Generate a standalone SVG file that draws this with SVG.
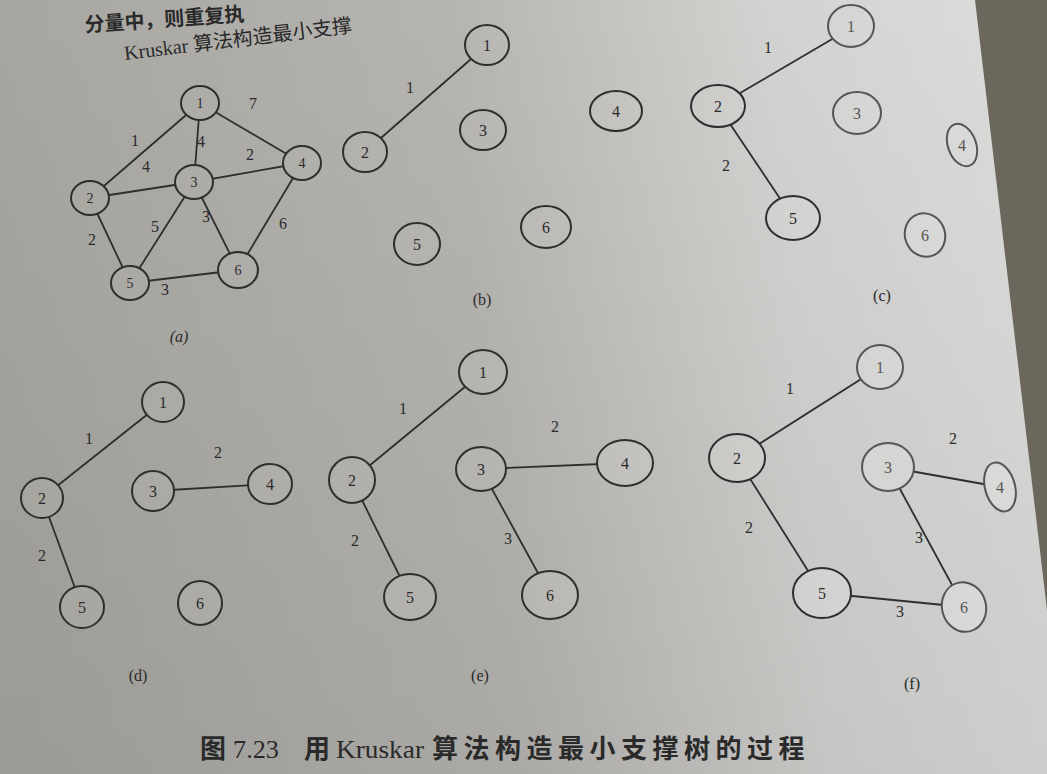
<svg xmlns="http://www.w3.org/2000/svg" width="1047" height="774" viewBox="0 0 1047 774">
<defs>
<linearGradient id="paper" gradientUnits="userSpaceOnUse" x1="0" y1="300" x2="1047" y2="200">
<stop offset="0" stop-color="#a7a5a0"/>
<stop offset="0.45" stop-color="#b6b4b0"/>
<stop offset="0.75" stop-color="#d2d2d0"/>
<stop offset="1" stop-color="#dcdcda"/>
</linearGradient>
<linearGradient id="shade" gradientUnits="userSpaceOnUse" x1="0" y1="0" x2="0" y2="774">
<stop offset="0" stop-color="#000" stop-opacity="0"/>
<stop offset="1" stop-color="#000" stop-opacity="0.06"/>
</linearGradient>
</defs>
<style>
.n ellipse{fill:url(#paper);stroke:#2e2e2e;stroke-width:2}
.n text,.lb{font-family:"Liberation Serif","Noto Sans CJK SC",serif;font-size:16px;fill:#2a2a2a;text-anchor:middle;dominant-baseline:central}
.sm text{font-size:14px}
.lt ellipse{stroke:#555}
.lt text{fill:#555}
.e line{stroke:#2e2e2e;stroke-width:1.8}
.cap{font-family:"Liberation Serif","Noto Sans CJK SC",serif;fill:#2a2a2a}
</style>
<rect width="1047" height="774" fill="url(#paper)"/>
<rect width="1047" height="774" fill="url(#shade)"/>
<polygon points="975,0 1047,0 1047,610" fill="#6b675d"/>

<text class="cap" font-size="20" font-weight="bold" transform="translate(85,32) rotate(-4)">分量中，则重复执</text>
<text class="cap" font-size="20" transform="translate(125,60) rotate(-7)">Kruskar 算法构造最小支撑</text>

<g id="connectors" class="e">
<line x1="200" y1="103" x2="90" y2="198"/>
<line x1="200" y1="103" x2="302" y2="163"/>
<line x1="200" y1="103" x2="194" y2="182"/>
<line x1="90" y1="198" x2="194" y2="182"/>
<line x1="194" y1="182" x2="302" y2="163"/>
<line x1="90" y1="198" x2="130" y2="283"/>
<line x1="194" y1="182" x2="130" y2="283"/>
<line x1="194" y1="182" x2="238" y2="270"/>
<line x1="302" y1="163" x2="238" y2="270"/>
<line x1="130" y1="283" x2="238" y2="270"/>

<line x1="487" y1="45" x2="365" y2="152"/>

<line x1="851" y1="28" x2="718" y2="106"/>
<line x1="718" y1="106" x2="793" y2="218"/>

<line x1="163" y1="402" x2="42" y2="498"/>
<line x1="42" y1="498" x2="82" y2="607"/>
<line x1="153" y1="491" x2="270" y2="484"/>

<line x1="483" y1="372" x2="352" y2="480"/>
<line x1="352" y1="480" x2="410" y2="597"/>
<line x1="481" y1="469" x2="625" y2="463"/>
<line x1="481" y1="469" x2="550" y2="595"/>

<line x1="880" y1="367" x2="737" y2="458"/>
<line x1="737" y1="458" x2="822" y2="593"/>
<line x1="888" y1="467" x2="1000" y2="487"/>
<line x1="888" y1="467" x2="964" y2="607"/>
<line x1="822" y1="593" x2="964" y2="607"/>
</g>

<g id="edge-labels">
<text class="lb" x="135" y="140">1</text>
<text class="lb" x="253" y="103">7</text>
<text class="lb" x="201" y="141">4</text>
<text class="lb" x="146" y="166">4</text>
<text class="lb" x="250" y="154">2</text>
<text class="lb" x="155" y="226">5</text>
<text class="lb" x="206" y="216">3</text>
<text class="lb" x="283" y="223">6</text>
<text class="lb" x="92" y="239">2</text>
<text class="lb" x="165" y="289">3</text>
<text class="lb" x="410" y="87">1</text>
<text class="lb" x="768" y="47" fill="#444">1</text>
<text class="lb" x="726" y="165" fill="#444">2</text>
<text class="lb" x="89" y="438">1</text>
<text class="lb" x="218" y="452">2</text>
<text class="lb" x="42" y="555">2</text>
<text class="lb" x="403" y="408">1</text>
<text class="lb" x="555" y="426">2</text>
<text class="lb" x="355" y="540">2</text>
<text class="lb" x="508" y="538">3</text>
<text class="lb" x="790" y="388" fill="#444">1</text>
<text class="lb" x="953" y="438" fill="#444">2</text>
<text class="lb" x="749" y="527" fill="#444">2</text>
<text class="lb" x="919" y="537" fill="#444">3</text>
<text class="lb" x="900" y="611" fill="#444">3</text>
</g>

<g id="a-1" class="n sm"><ellipse cx="200" cy="103" rx="19" ry="17"/><text x="200" y="103">1</text></g>
<g id="a-2" class="n sm"><ellipse cx="90" cy="198" rx="19" ry="17"/><text x="90" y="198">2</text></g>
<g id="a-3" class="n sm"><ellipse cx="194" cy="182" rx="19" ry="17"/><text x="194" y="182">3</text></g>
<g id="a-4" class="n sm"><ellipse cx="302" cy="163" rx="19" ry="17"/><text x="302" y="163">4</text></g>
<g id="a-5" class="n sm"><ellipse cx="130" cy="283" rx="19" ry="17"/><text x="130" y="283">5</text></g>
<g id="a-6" class="n sm"><ellipse cx="238" cy="270" rx="20" ry="18"/><text x="238" y="270">6</text></g>

<g id="b-1" class="n"><ellipse cx="487" cy="45" rx="22" ry="20"/><text x="487" y="45">1</text></g>
<g id="b-2" class="n"><ellipse cx="365" cy="152" rx="22" ry="20"/><text x="365" y="152">2</text></g>
<g id="b-3" class="n"><ellipse cx="483" cy="130" rx="23" ry="20"/><text x="483" y="130">3</text></g>
<g id="b-4" class="n"><ellipse cx="616" cy="111" rx="26" ry="20"/><text x="616" y="111">4</text></g>
<g id="b-5" class="n"><ellipse cx="417" cy="244" rx="23" ry="21"/><text x="417" y="244">5</text></g>
<g id="b-6" class="n"><ellipse cx="546" cy="227" rx="25" ry="21"/><text x="546" y="227">6</text></g>

<g id="c-1" class="n lt"><ellipse cx="851" cy="26" rx="23" ry="21"/><text x="851" y="26">1</text></g>
<g id="c-2" class="n"><ellipse cx="718" cy="106" rx="27" ry="21"/><text x="718" y="106">2</text></g>
<g id="c-3" class="n lt"><ellipse cx="857" cy="113" rx="24" ry="21"/><text x="857" y="113">3</text></g>
<g id="c-4" class="n lt"><ellipse cx="962" cy="145" rx="14" ry="22" transform="rotate(-20 962 145)"/><text x="962" y="145" font-size="13">4</text></g>
<g id="c-5" class="n"><ellipse cx="793" cy="218" rx="27" ry="22"/><text x="793" y="218">5</text></g>
<g id="c-6" class="n lt"><ellipse cx="925" cy="235" rx="20" ry="22" transform="rotate(-20 925 235)"/><text x="925" y="235" font-size="13">6</text></g>

<g id="d-1" class="n"><ellipse cx="163" cy="402" rx="21" ry="20"/><text x="163" y="402">1</text></g>
<g id="d-2" class="n"><ellipse cx="42" cy="498" rx="21" ry="20"/><text x="42" y="498">2</text></g>
<g id="d-3" class="n"><ellipse cx="153" cy="491" rx="21" ry="20"/><text x="153" y="491">3</text></g>
<g id="d-4" class="n"><ellipse cx="270" cy="484" rx="22" ry="20"/><text x="270" y="484">4</text></g>
<g id="d-5" class="n"><ellipse cx="82" cy="607" rx="22" ry="21"/><text x="82" y="607">5</text></g>
<g id="d-6" class="n"><ellipse cx="200" cy="603" rx="22" ry="22"/><text x="200" y="603">6</text></g>

<g id="e-1" class="n"><ellipse cx="483" cy="372" rx="24" ry="22"/><text x="483" y="372">1</text></g>
<g id="e-2" class="n"><ellipse cx="352" cy="480" rx="23" ry="23"/><text x="352" y="480">2</text></g>
<g id="e-3" class="n"><ellipse cx="481" cy="469" rx="25" ry="22"/><text x="481" y="469">3</text></g>
<g id="e-4" class="n"><ellipse cx="625" cy="463" rx="28" ry="23"/><text x="625" y="463">4</text></g>
<g id="e-5" class="n"><ellipse cx="410" cy="597" rx="26" ry="23"/><text x="410" y="597">5</text></g>
<g id="e-6" class="n"><ellipse cx="550" cy="595" rx="28" ry="24"/><text x="550" y="595">6</text></g>

<g id="f-1" class="n lt"><ellipse cx="880" cy="367" rx="23" ry="22"/><text x="880" y="367">1</text></g>
<g id="f-2" class="n"><ellipse cx="737" cy="458" rx="28" ry="24"/><text x="737" y="458">2</text></g>
<g id="f-3" class="n lt"><ellipse cx="888" cy="467" rx="26" ry="24"/><text x="888" y="467">3</text></g>
<g id="f-4" class="n lt"><ellipse cx="1000" cy="487" rx="15" ry="25" transform="rotate(-15 1000 487)"/><text x="1000" y="487" font-size="13">4</text></g>
<g id="f-5" class="n"><ellipse cx="822" cy="593" rx="29" ry="25"/><text x="822" y="593">5</text></g>
<g id="f-6" class="n lt"><ellipse cx="964" cy="607" rx="22" ry="25" transform="rotate(-15 964 607)"/><text x="964" y="607">6</text></g>

<g id="panel-labels">
<text class="lb" x="179" y="336" font-style="italic">(a)</text>
<text class="lb" x="482" y="299">(b)</text>
<text class="lb" x="882" y="295" fill="#666">(c)</text>
<text class="lb" x="138" y="675">(d)</text>
<text class="lb" x="480" y="675">(e)</text>
<text class="lb" x="912" y="683" fill="#444">(f)</text>
</g>

<text class="cap" y="758" font-size="26" font-weight="bold"><tspan x="200">图</tspan><tspan x="233" font-weight="normal" textLength="46" lengthAdjust="spacingAndGlyphs">7.23</tspan><tspan x="304">用</tspan><tspan x="336" font-weight="normal" textLength="88" lengthAdjust="spacingAndGlyphs">Kruskar</tspan><tspan x="432" letter-spacing="5.5">算法构造最小支撑树的过程</tspan></text>
</svg>
